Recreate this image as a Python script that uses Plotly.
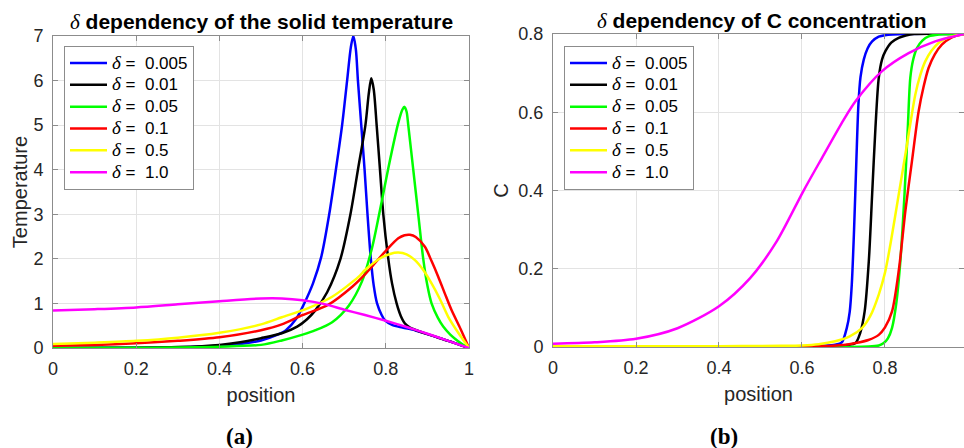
import plotly.graph_objects as go
from plotly.subplots import make_subplots

# ---- series labels and colours ----
deltas = ["0.005", "0.01", "0.05", "0.1", "0.5", "1.0"]
colors = ["#0000FF", "#000000", "#00FF00", "#FF0000", "#FFFF00", "#FF00FF"]

# ---- (a) solid temperature vs position ----
temp_x_d0005 = [0, 0.2, 0.3, 0.4, 0.45, 0.5, 0.54, 0.56, 0.585, 0.603, 0.625, 0.645, 0.664,
                0.68, 0.695, 0.707, 0.716, 0.722, 0.728, 0.733, 0.741, 0.749, 0.756, 0.764,
                0.771, 0.779, 0.79, 0.798, 0.815, 0.84, 0.87, 0.9, 0.95, 1.0]
temp_y_d0005 = [0.0, 0.005, 0.015, 0.05, 0.09, 0.17, 0.30, 0.40, 0.66, 0.98, 1.45, 2.05, 3.0,
                4.0, 5.0, 6.0, 6.75, 7.0, 6.7, 6.0, 5.0, 4.0, 3.0, 2.0,
                1.4, 1.0, 0.74, 0.62, 0.52, 0.46, 0.40, 0.31, 0.16, 0.0]

temp_x_d001 = [0, 0.2, 0.3, 0.4, 0.45, 0.5, 0.55, 0.587, 0.61, 0.631, 0.659, 0.691, 0.715,
               0.733, 0.751, 0.759, 0.765, 0.771, 0.778, 0.786, 0.794, 0.806, 0.815, 0.826,
               0.836, 0.846, 0.858, 0.87, 0.9, 0.95, 1.0]
temp_y_d001 = [0.0, 0.005, 0.02, 0.07, 0.13, 0.22, 0.33, 0.48, 0.64, 0.85, 1.25, 2.0, 3.0,
               4.0, 5.0, 5.7, 6.05, 5.8, 5.0, 4.0, 3.0, 2.0, 1.45, 1.0,
               0.72, 0.55, 0.46, 0.41, 0.31, 0.16, 0.0]

temp_x_d005 = [0, 0.2, 0.4, 0.5, 0.55, 0.6, 0.631, 0.671, 0.711, 0.743, 0.767, 0.784, 0.8,
               0.812, 0.83, 0.84, 0.845, 0.85, 0.854, 0.866, 0.878, 0.89, 0.9, 0.91, 0.925,
               0.938, 0.955, 0.97, 0.985, 1.0]
temp_y_d005 = [0.0, 0.005, 0.03, 0.07, 0.17, 0.30, 0.40, 0.58, 0.95, 1.5, 2.25, 3.0, 3.75,
               4.3, 5.05, 5.35, 5.41, 5.3, 5.0, 4.0, 3.0, 2.0, 1.4, 1.0, 0.68,
               0.48, 0.30, 0.18, 0.08, 0.0]

temp_x_d01 = [0, 0.1, 0.2, 0.3, 0.4, 0.5, 0.55, 0.6, 0.66, 0.72, 0.75, 0.8, 0.83, 0.845, 0.858,
              0.872, 0.894, 0.91, 0.926, 0.942, 0.958, 0.98, 1.0]
temp_y_d01 = [0.05, 0.07, 0.105, 0.16, 0.24, 0.40, 0.53, 0.74, 0.96, 1.38, 1.65, 2.18, 2.46, 2.53,
              2.54, 2.49, 2.27, 1.95, 1.60, 1.22, 0.85, 0.42, 0.0]

temp_x_d05 = [0, 0.1, 0.2, 0.3, 0.4, 0.5, 0.55, 0.615, 0.671, 0.735, 0.75, 0.79, 0.81, 0.83,
              0.85, 0.87, 0.89, 0.91, 0.93, 0.95, 0.975, 1.0]
temp_y_d05 = [0.09, 0.12, 0.16, 0.23, 0.34, 0.53, 0.69, 0.90, 1.15, 1.60, 1.75, 2.03, 2.11, 2.14,
              2.10, 1.97, 1.75, 1.45, 1.10, 0.70, 0.33, 0.0]

temp_x_d1 = [0, 0.1, 0.2, 0.3, 0.4, 0.5, 0.55, 0.6, 0.65, 0.7, 0.75, 0.8, 0.85, 0.9, 0.95, 1.0]
temp_y_d1 = [0.84, 0.87, 0.91, 0.98, 1.05, 1.11, 1.11, 1.07, 0.99, 0.86, 0.74, 0.61, 0.47, 0.32,
             0.16, 0.0]

# ---- (b) C concentration vs position ----
conc_x_d0005 = [0, 0.3, 0.5, 0.6, 0.65, 0.68, 0.696, 0.708, 0.715, 0.72, 0.7255, 0.731, 0.736,
                0.741, 0.749, 0.758, 0.769, 0.785, 0.8, 0.85, 0.99]
conc_y_d0005 = [0.0, 0.0, 0.0, 0.001, 0.003, 0.006, 0.012, 0.049, 0.09, 0.16, 0.30, 0.475, 0.62,
                0.69, 0.735, 0.763, 0.781, 0.793, 0.797, 0.8, 0.8]

conc_x_d001 = [0, 0.6, 0.68, 0.71, 0.729, 0.74, 0.751, 0.761, 0.769, 0.777, 0.785, 0.793, 0.801,
               0.815, 0.833, 0.85, 0.87, 0.99]
conc_y_d001 = [0.0, 0.0, 0.002, 0.005, 0.01, 0.035, 0.091, 0.219, 0.389, 0.560, 0.688, 0.735, 0.756,
               0.778, 0.790, 0.796, 0.8, 0.8]

conc_x_d005 = [0, 0.7, 0.76, 0.785, 0.797, 0.807, 0.817, 0.827, 0.837, 0.847, 0.855, 0.861, 0.868,
               0.877, 0.89, 0.905, 0.93, 0.96, 0.99]
conc_y_d005 = [0.0, 0.0, 0.001, 0.004, 0.01, 0.022, 0.049, 0.11, 0.219, 0.389, 0.560, 0.688, 0.735,
               0.764, 0.783, 0.794, 0.799, 0.8, 0.8]

conc_x_d01 = [0, 0.5, 0.6, 0.65, 0.7, 0.729, 0.76, 0.785, 0.8, 0.817, 0.834, 0.849, 0.865, 0.881,
              0.893, 0.905, 0.92, 0.937, 0.96, 0.99]
conc_y_d01 = [0.0, 0.0, 0.001, 0.002, 0.005, 0.01, 0.018, 0.031, 0.05, 0.091, 0.202, 0.347, 0.475,
              0.602, 0.665, 0.713, 0.748, 0.773, 0.791, 0.8]

conc_x_d05 = [0, 0.4, 0.55, 0.6, 0.64, 0.68, 0.715, 0.745, 0.765, 0.785, 0.8, 0.813, 0.833, 0.853,
              0.873, 0.885, 0.897, 0.912, 0.929, 0.95, 0.978, 0.99]
conc_y_d05 = [0.002, 0.002, 0.003, 0.004, 0.007, 0.0145, 0.027, 0.049, 0.08, 0.134, 0.19, 0.262,
              0.389, 0.517, 0.645, 0.695, 0.730, 0.757, 0.777, 0.79, 0.798, 0.8]

conc_x_d1 = [0, 0.1, 0.2, 0.3, 0.4, 0.475, 0.539, 0.603, 0.648, 0.7, 0.729, 0.793, 0.857, 0.921,
             0.99]
conc_y_d1 = [0.0085, 0.012, 0.021, 0.048, 0.104, 0.176, 0.270, 0.398, 0.483, 0.58, 0.628, 0.705,
             0.751, 0.781, 0.8]

temp_series = [(temp_x_d0005, temp_y_d0005), (temp_x_d001, temp_y_d001), (temp_x_d005, temp_y_d005),
               (temp_x_d01, temp_y_d01), (temp_x_d05, temp_y_d05), (temp_x_d1, temp_y_d1)]
conc_series = [(conc_x_d0005, conc_y_d0005), (conc_x_d001, conc_y_d001), (conc_x_d005, conc_y_d005),
               (conc_x_d01, conc_y_d01), (conc_x_d05, conc_y_d05), (conc_x_d1, conc_y_d1)]

temp_ticks = [0, 1, 2, 3, 4, 5, 6, 7]
conc_ticks = [0, 0.2, 0.4, 0.6, 0.8]
pos_ticks_a = [0, 0.2, 0.4, 0.6, 0.8, 1]
pos_ticks_b = [0, 0.2, 0.4, 0.6, 0.8]

SANS = "Liberation Sans, Arial, sans-serif"
SERIF = "Liberation Serif, Times New Roman, serif"
TXT = "#262626"
FRAME = "#8c8c8c"
GRID = "#e3e3e3"


def legend_label(d):
    # italic serif delta, sans-serif value
    return (f'<span style="font-family:{SERIF}; font-size:19px"><i>δ</i></span>'
            f'<span style="font-size:17px"> =  {d}</span>')


fig = make_subplots(rows=1, cols=2)

for i, (d, c) in enumerate(zip(deltas, colors)):
    xs, ys = temp_series[i]
    fig.add_trace(go.Scatter(x=xs, y=ys, mode="lines", name=legend_label(d),
                             line=dict(color=c, width=2.5, shape="spline", smoothing=0.8),
                             legend="legend"), row=1, col=1)
for i, (d, c) in enumerate(zip(deltas, colors)):
    xs, ys = conc_series[i]
    fig.add_trace(go.Scatter(x=xs, y=ys, mode="lines", name=legend_label(d),
                             line=dict(color=c, width=2.5, shape="spline", smoothing=0.8),
                             legend="legend2"), row=1, col=2)

W, H = 964, 448
axis_common = dict(showline=True, linecolor=FRAME, linewidth=1, mirror="ticks",
                   ticks="inside", ticklen=5, tickcolor=FRAME, showgrid=True,
                   gridcolor=GRID, gridwidth=1, zeroline=False, automargin=False,
                   tickfont=dict(family=SANS, size=18, color=TXT))

fig.update_xaxes(**axis_common)
fig.update_yaxes(**axis_common)

legend_common = dict(yanchor="top", xanchor="left", bgcolor="white", bordercolor=FRAME,
                     borderwidth=1, font=dict(family=SANS, size=14.5, color="black"),
                     itemwidth=37, tracegroupgap=0)

fig.update_layout(
    template="none",
    width=W, height=H,
    margin=dict(l=0, r=0, t=0, b=0, autoexpand=False),
    paper_bgcolor="white", plot_bgcolor="white",
    showlegend=True,
    xaxis=dict(domain=[53 / W, 469 / W], range=[0, 1], tickvals=pos_ticks_a,
               ticktext=[f"{v:g}" for v in pos_ticks_a], ticklabelstandoff=4,
               title=dict(text="position", font=dict(family=SANS, size=20, color=TXT), standoff=10)),
    yaxis=dict(domain=[1 - 348 / H, 1 - 36 / H], range=[0, 7], tickvals=temp_ticks,
               ticklabelstandoff=5,
               title=dict(text="Temperature", font=dict(family=SANS, size=20, color=TXT), standoff=0)),
    xaxis2=dict(domain=[553 / W, 1.0], range=[0, 0.9904], tickvals=pos_ticks_b,
                ticktext=[f"{v:g}" for v in pos_ticks_b], ticklabelstandoff=4,
                title=dict(text="position", font=dict(family=SANS, size=20, color=TXT), standoff=10)),
    yaxis2=dict(domain=[1 - 347 / H, 1 - 34 / H], range=[0, 0.8], tickvals=conc_ticks,
                ticktext=[f"{v:g}" for v in conc_ticks], ticklabelstandoff=5,
                title=dict(text="C", font=dict(family=SANS, size=20, color=TXT), standoff=4)),
    legend=dict(x=64 / W, y=1 - 46 / H, **legend_common),
    legend2=dict(x=564 / W, y=1 - 46 / H, **legend_common),
)

delta_span = f'<span style="font-family:{SERIF}; font-weight:normal"><i>δ</i></span>'
fig.add_annotation(x=261 / W, y=1 - 22 / H, xref="paper", yref="paper", showarrow=False,
                   xanchor="center", yanchor="middle",
                   text=f"{delta_span} <b>dependency of the solid temperature</b>",
                   font=dict(family=SANS, size=21, color="black"))
fig.add_annotation(x=761 / W, y=1 - 21 / H, xref="paper", yref="paper", showarrow=False,
                   xanchor="center", yanchor="middle",
                   text=f"{delta_span} <b>dependency of C concentration</b>",
                   font=dict(family=SANS, size=21, color="black"))
fig.add_annotation(x=239 / W, y=1 - 436 / H, xref="paper", yref="paper", showarrow=False,
                   xanchor="center", yanchor="middle",
                   text="<b>(a)</b>", font=dict(family=SERIF, size=23, color="black"))
fig.add_annotation(x=724 / W, y=1 - 436 / H, xref="paper", yref="paper", showarrow=False,
                   xanchor="center", yanchor="middle",
                   text="<b>(b)</b>", font=dict(family=SERIF, size=23, color="black"))

fig.write_html("out.html")
